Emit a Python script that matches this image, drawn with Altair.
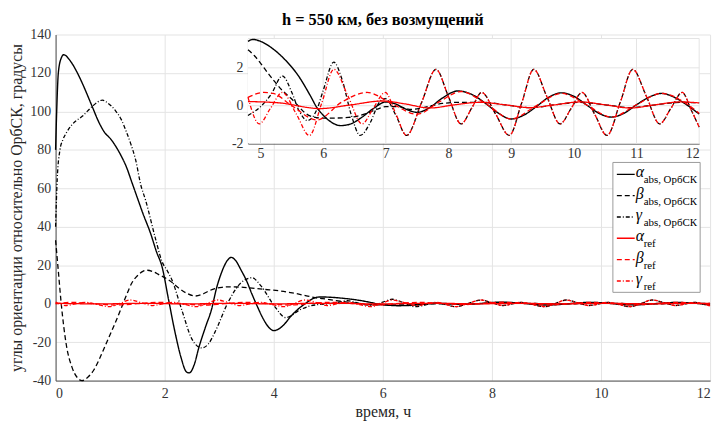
import altair as alt
import pandas as pd

# ---------------- data: (time, angle) ----------------
alpha_abs = [(0.0, 80), (0.02, 100), (0.05, 120), (0.1, 127.5), (0.15, 129.5), (0.25, 127),
             (0.4, 120), (0.5, 114), (0.65, 104), (0.8, 94), (0.9, 89), (1.0, 86), (1.1, 82),
             (1.2, 77), (1.3, 71), (1.4, 63), (1.5, 55), (1.6, 47), (1.74, 36.7), (1.85, 27),
             (1.95, 19.4), (2.07, 2.3), (2.19, -14.9), (2.3, -28), (2.4, -35.5), (2.45, -36),
             (2.55, -31), (2.62, -23.5), (2.75, -12), (2.86, -2.9), (2.95, 8), (3.04, 16),
             (3.15, 22.5), (3.22, 24.1), (3.3, 22.5), (3.4, 17.5), (3.5, 12), (3.6, 5),
             (3.7, -1.5), (3.8, -7.5), (3.9, -12), (4.0, -14), (4.1, -13), (4.2, -10.5),
             (4.3, -7), (4.44, -3), (4.6, 0.5), (4.7, 2.4), (4.8, 3.4), (4.88, 3.5), (5.0, 3.4),
             (5.2, 3.0), (5.4, 2.4), (5.6, 1.6), (5.8, 0.5), (5.9, -0.1), (6.0, -0.5),
             (6.1, -0.8), (6.28, -1.05), (6.45, -0.95), (6.6, -0.65), (6.8, -0.15), (7.0, 0.2),
             (7.15, 0.1), (7.3, -0.15), (7.5, -0.35), (7.7, -0.1), (7.9, 0.4), (8.15, 0.78),
             (8.4, 0.55), (8.6, 0.1), (8.8, -0.4), (9.0, -0.7), (9.2, -0.5), (9.4, -0.05),
             (9.6, 0.45), (9.8, 0.68), (10.0, 0.5), (10.2, 0.05), (10.4, -0.4), (10.6, -0.6),
             (10.8, -0.4), (11.0, 0.05), (11.2, 0.45), (11.4, 0.65), (11.6, 0.45), (11.8, 0.05),
             (12.0, -0.44)]

beta_abs = [(0.0, 33), (0.05, 17), (0.1, 1), (0.15, -12), (0.2, -22), (0.3, -33), (0.4, -38.5),
            (0.485, -40), (0.6, -38), (0.7, -34.5), (0.8, -29), (0.9, -22.5), (1.0, -16),
            (1.1, -9.5), (1.22, -1.2), (1.3, 4.5), (1.4, 10.9), (1.5, 14.5), (1.6, 16.8),
            (1.68, 17.4), (1.8, 16.5), (1.9, 15), (2.01, 13.4), (2.1, 11.8), (2.25, 8.3),
            (2.4, 5.5), (2.56, 4.0), (2.7, 5.0), (2.8, 6.5), (2.92, 7.8), (3.05, 8.5),
            (3.22, 8.8), (3.4, 8.6), (3.53, 8.3), (3.8, 7.5), (4.13, 6.6), (4.4, 5.3),
            (4.6, 4.1), (4.8, 2.95), (4.9, 2.65), (5.0, 2.25), (5.1, 1.8), (5.22, 1.3),
            (5.35, 0.8), (5.49, 0.38), (5.6, 0.0), (5.7, -0.35), (5.8, -0.55), (6.0, -0.65),
            (6.2, -0.65), (6.4, -0.62), (6.55, -0.55), (6.7, -0.4), (6.85, -0.2), (7.0, -0.05),
            (7.2, -0.05), (7.4, -0.2), (7.6, -0.1), (7.9, 0.12), (8.2, 0.18), (8.6, 0.17),
            (8.9, 0.05), (9.3, -0.1), (9.7, 0.05), (10.1, 0.18), (10.5, 0.05), (10.9, -0.1),
            (11.3, 0.05), (11.7, 0.18), (12.0, 0.15)]

gamma_abs = [(0.0, 40), (0.03, 65), (0.08, 80), (0.13, 85), (0.2, 89), (0.31, 93.4), (0.5, 97.7),
             (0.68, 102.8), (0.86, 105.9), (0.95, 104.5), (1.1, 100.3), (1.2, 96), (1.29, 90),
             (1.38, 83), (1.47, 74.5), (1.56, 62), (1.65, 53.8), (1.83, 34), (1.95, 22),
             (2.05, 17), (2.13, 12.6), (2.31, -2.9), (2.5, -18.4), (2.68, -23), (2.8, -21),
             (2.92, -14.9), (3.16, 0.6), (3.4, 10.9), (3.6, 13.5), (3.77, 9.1), (4.01, -1.2),
             (4.22, -7.2), (4.5, -2.9), (4.65, -1.3), (4.8, -0.52), (5.0, -0.05), (5.17, 0.6),
             (5.35, 1.57), (5.5, 0.7), (5.62, -0.3), (5.75, -0.78), (5.9, -0.2), (6.0, 0.8),
             (6.17, 2.3), (6.3, 1.4), (6.45, -0.5), (6.59, -1.57), (6.75, -0.9), (6.9, 0.2),
             (6.99, 0.38), (7.16, -0.5), (7.33, -1.57), (7.57, 0.17), (7.8, 1.92), (8.0, 0.48),
             (8.2, -0.96), (8.37, -0.13), (8.53, 0.7), (8.75, -0.43), (8.97, -1.57), (9.17, 0.17),
             (9.36, 1.92), (9.57, 0.48), (9.78, -0.96), (9.96, -0.13), (10.13, 0.7),
             (10.33, -0.43), (10.53, -1.57), (10.74, 0.17), (10.94, 1.92), (11.16, 0.48),
             (11.37, -0.96), (11.55, -0.13), (11.73, 0.7), (11.87, -0.2), (12.0, -1.13)]

alpha_ref = [(0.0, 0.2), (0.4, 0.0), (0.8, -0.15), (1.2, 0.05), (1.6, 0.2), (2.0, 0.05),
             (2.4, -0.15), (2.8, 0.05), (3.2, 0.2), (3.6, 0.05), (4.0, -0.15), (4.4, 0.05),
             (4.8, 0.22), (5.3, 0.15), (5.95, -0.15), (6.45, 0.05), (6.95, 0.25), (7.3, 0.1),
             (7.7, -0.12), (8.1, 0.05), (8.5, 0.18), (8.9, 0.05), (9.3, -0.1), (9.7, 0.05),
             (10.1, 0.2), (10.5, 0.05), (10.9, -0.12), (11.3, 0.05), (11.7, 0.2), (12.0, 0.15)]

beta_ref = [(0.0, -0.1), (0.3, 0.7), (0.7, 0.0), (1.1, -0.7), (1.5, 0.0), (1.9, 0.7), (2.3, 0.0),
            (2.7, -0.7), (3.1, 0.0), (3.5, 0.7), (3.9, 0.0), (4.3, -0.7), (4.6, 0.0),
            (4.8, 0.44), (5.05, 0.7), (5.2, 0.65), (5.5, 0.0), (5.9, -0.75), (6.3, 0.2),
            (6.7, 0.7), (7.1, 0.1), (7.5, -0.45), (7.85, 0.2), (8.2, 0.75), (8.6, 0.1),
            (9.0, -0.7), (9.4, 0.0), (9.8, 0.65), (10.2, 0.05), (10.6, -0.6), (11.0, 0.05),
            (11.4, 0.65), (11.8, 0.1), (12.0, -0.4)]

gamma_ref = [(0.0, 0.9), (0.18, -0.96), (0.36, -0.13), (0.55, 0.7), (0.77, -0.43), (0.98, -1.57),
             (1.18, 0.17), (1.37, 1.92), (1.58, 0.48), (1.78, -0.96), (1.96, -0.13), (2.15, 0.7),
             (2.37, -0.43), (2.58, -1.57), (2.78, 0.17), (2.97, 1.92), (3.18, 0.48),
             (3.38, -0.96), (3.56, -0.13), (3.75, 0.7), (3.97, -0.43), (4.18, -1.57),
             (4.38, 0.17), (4.57, 1.92), (4.8, 0.45), (4.98, -0.96), (5.16, -0.13), (5.35, 0.7),
             (5.57, -0.43), (5.78, -1.57), (5.98, 0.17), (6.17, 1.92), (6.4, 0.48), (6.62, -0.96),
             (6.8, -0.13), (6.99, 0.7), (7.16, -0.43), (7.33, -1.57), (7.57, 0.17), (7.8, 1.92),
             (8.0, 0.48), (8.2, -0.96), (8.37, -0.13), (8.53, 0.7), (8.75, -0.43), (8.97, -1.57),
             (9.17, 0.17), (9.36, 1.92), (9.57, 0.48), (9.78, -0.96), (9.96, -0.13), (10.13, 0.7),
             (10.33, -0.43), (10.53, -1.57), (10.74, 0.17), (10.94, 1.92), (11.16, 0.48),
             (11.37, -0.96), (11.55, -0.13), (11.73, 0.7), (11.87, -0.2), (12.0, -1.13)]

legend_greek = ["α", "β", "γ", "α", "β", "γ"]
legend_sub = ["abs, ОрбСК", "abs, ОрбСК", "abs, ОрбСК", "ref", "ref", "ref"]
legend_color = ["black", "black", "black", "red", "red", "red"]
legend_dash = ["solid", "dashed", "dashdot", "solid", "dashed", "dashdot"]

main_x_ticks = [0, 2, 4, 6, 8, 10, 12]
main_y_ticks = [-40, -20, 0, 20, 40, 60, 80, 100, 120, 140]
inset_x_ticks = [5, 6, 7, 8, 9, 10, 11, 12]
inset_y_ticks = [-2, 0, 2]
INSET_T0, INSET_T1 = 4.8, 12.0
INSET_V0, INSET_V1 = -2.0, 3.55

# ---------------- styles ----------------
FONT = "Liberation Serif"
GRID = "#e4e4e4"
AXIS = "#4d4d4d"
BLACK, RED = "#000000", "#ff0000"
DASHES = {"solid": [1, 0], "dashed": [5, 3], "dashdot": [4, 2, 1, 2]}
W, H = 660, 349

series = [
    (alpha_abs, BLACK, "solid", 1.4),
    (beta_abs, BLACK, "dashed", 1.3),
    (gamma_abs, BLACK, "dashdot", 1.3),
    (alpha_ref, RED, "solid", 1.3),
    (beta_ref, RED, "dashed", 1.3),
    (gamma_ref, RED, "dashdot", 1.3),
]


def frame(pairs):
    return pd.DataFrame(pairs, columns=["t", "v"])


# ---------------- main plot ----------------
main_xs = alt.Scale(domain=[0, 12], nice=False, zero=False)
main_ys = alt.Scale(domain=[-40, 140], nice=False, zero=False)
main_xa = alt.Axis(values=main_x_ticks, grid=True, ticks=False, labelFontSize=14,
                   labelPadding=6, titleFontSize=16, titlePadding=3,
                   labelFont=FONT, titleFont=FONT)
main_ya = alt.Axis(values=main_y_ticks, grid=True, ticks=False, labelFontSize=14,
                   labelPadding=5, titleFontSize=16, titlePadding=5,
                   labelFont=FONT, titleFont=FONT, labelExpr="'' + datum.value")

main_layers = []
for pairs, col, dash, sw in series:
    main_layers.append(
        alt.Chart(frame(pairs)).mark_line(color=col, strokeDash=DASHES[dash], strokeWidth=sw,
                                          interpolate="monotone").encode(
            x=alt.X("t:Q", scale=main_xs, axis=main_xa, title="время, ч"),
            y=alt.Y("v:Q", scale=main_ys, axis=main_ya,
                    title="углы ориентации относительно ОрбСК, градусы"),
        )
    )
main = alt.layer(*main_layers)

# ---------------- inset ----------------
ins_xs = alt.Scale(domain=[INSET_T0, INSET_T1], range=[194, 649], nice=False, zero=False)
ins_ys = alt.Scale(domain=[INSET_V0, INSET_V1], range=[110, 4], nice=False, zero=False)
ins_xa = alt.Axis(orient="bottom", offset=-(H - 110), values=inset_x_ticks, grid=False,
                  ticks=False, labelFontSize=14, labelPadding=3, title=None, labelFont=FONT)
ins_ya = alt.Axis(orient="left", offset=-194, values=inset_y_ticks, grid=False, ticks=False,
                  labelFontSize=14, labelPadding=5, title=None, labelFont=FONT,
                  labelExpr="'' + datum.value")

bg_df = pd.DataFrame({"x0": [INSET_T0], "x1": [INSET_T1], "y0": [INSET_V0], "y1": [INSET_V1]})
inset_bg = alt.Chart(bg_df).mark_rect(fill="white").encode(
    x=alt.X("x0:Q", scale=ins_xs, axis=ins_xa), x2="x1:Q",
    y=alt.Y("y0:Q", scale=ins_ys, axis=ins_ya), y2="y1:Q")

vgrid_df = pd.DataFrame({"gx": inset_x_ticks, "lo": INSET_V0, "hi": INSET_V1})
inset_vgrid = alt.Chart(vgrid_df).mark_rule(color=GRID, strokeWidth=1).encode(
    x=alt.X("gx:Q", scale=ins_xs, axis=ins_xa),
    y=alt.Y("lo:Q", scale=ins_ys, axis=ins_ya), y2="hi:Q")

hgrid_df = pd.DataFrame({"gy": [0, 2, INSET_V1], "lo": INSET_T0, "hi": INSET_T1})
inset_hgrid = alt.Chart(hgrid_df).mark_rule(color=GRID, strokeWidth=1).encode(
    y=alt.Y("gy:Q", scale=ins_ys, axis=ins_ya),
    x=alt.X("lo:Q", scale=ins_xs, axis=ins_xa), x2="hi:Q")

inset_layers = [inset_bg, inset_vgrid, inset_hgrid]
for pairs, col, dash, sw in series:
    df = frame(pairs)
    df = df[df["t"] >= INSET_T0]
    inset_layers.append(
        alt.Chart(df).mark_line(color=col, strokeDash=DASHES[dash], strokeWidth=sw,
                                interpolate="monotone").encode(
            x=alt.X("t:Q", scale=ins_xs, axis=ins_xa),
            y=alt.Y("v:Q", scale=ins_ys, axis=ins_ya),
        )
    )
inset = alt.layer(*inset_layers)

# ---------------- legend ----------------
leg_df = pd.DataFrame({"row": list(range(6)), "greek": legend_greek, "sub": legend_sub,
                       "lcolor": legend_color, "ldash": legend_dash})
leg_ys = alt.Scale(domain=[0, 5], range=[141, 248.5], nice=False, zero=False)
leg_color = alt.Color("lcolor:N", scale=alt.Scale(domain=["black", "red"], range=[BLACK, RED]),
                      legend=None)
leg_dash = alt.StrokeDash("ldash:N", scale=alt.Scale(domain=list(DASHES.keys()),
                                                     range=list(DASHES.values())), legend=None)

leg_box = alt.Chart(pd.DataFrame({"k": [0]})).mark_rect(
    fill="white", stroke="#9a9a9a", strokeWidth=1).encode(
    x=alt.value(562), x2=alt.value(650), y=alt.value(129), y2=alt.value(260))
leg_rules = alt.Chart(leg_df).mark_rule(strokeWidth=1.4).encode(
    x=alt.value(566), x2=alt.value(584),
    y=alt.Y("row:Q", scale=leg_ys, axis=None), color=leg_color, strokeDash=leg_dash)
leg_greek = alt.Chart(leg_df).mark_text(align="left", baseline="alphabetic", dy=3, font=FONT,
                                        fontSize=16, fontStyle="italic", color="black").encode(
    x=alt.value(585), y=alt.Y("row:Q", scale=leg_ys, axis=None), text="greek:N")
leg_subs = alt.Chart(leg_df).mark_text(align="left", baseline="alphabetic", dy=9, font=FONT,
                                       fontSize=11, color="black").encode(
    x=alt.value(593), y=alt.Y("row:Q", scale=leg_ys, axis=None), text="sub:N")
legend = alt.layer(leg_box, leg_rules, leg_greek, leg_subs)

# ---------------- assemble ----------------
chart = alt.layer(main, inset, legend).resolve_scale(
    x="independent", y="independent"
).properties(
    width=W, height=H,
    title=alt.TitleParams("h = 550 км, без возмущений", font=FONT, fontSize=16.5,
                          fontWeight="bold", color="black", anchor="middle", offset=-1),
    padding={"left": 48, "top": 25, "right": 8, "bottom": 39},
    autosize=alt.AutoSizeParams(type="none"),
).configure_view(stroke=None).configure_axis(
    labelFont=FONT, titleFont=FONT, labelColor="#333333", titleColor="#262626",
    titleFontWeight="normal", domainColor=AXIS, domainWidth=1, gridColor=GRID, gridWidth=1,
)

chart.save("out.html", embed_options={"renderer": "svg", "actions": False})
